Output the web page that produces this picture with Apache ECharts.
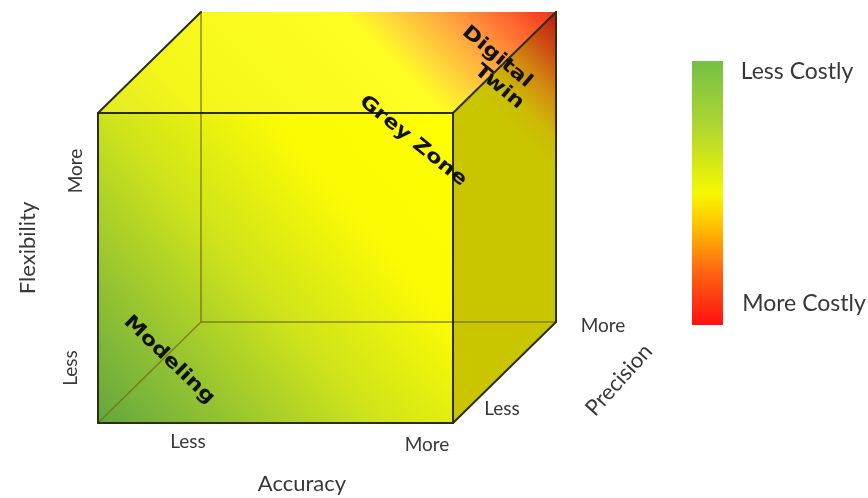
<!DOCTYPE html>
<html><head><meta charset="utf-8">
<script src="https://cdn.jsdelivr.net/npm/echarts@6/dist/echarts.min.js"></script>
<style>html,body{margin:0;padding:0;background:#fff}#c{width:868px;height:498px}</style>
</head><body><div id="c"></div>
<script>
// ---- content ----
const axisNames = ['Accuracy', 'Flexibility', 'Precision'];
const accuracyTicks = ['Less', 'More'];
const flexibilityTicks = ['Less', 'More'];
const precisionTicks = ['Less', 'More'];
const zoneLabels = ['Modeling', 'Grey Zone', 'Digital', 'Twin'];
const costLabels = ['Less Costly', 'More Costly'];
// cube corners as (accuracy, flexibility, precision), each 0..1
const cubeCorners = [[0,0,0],[1,0,0],[1,1,0],[0,1,0],[0,0,1],[1,0,1],[1,1,1],[0,1,1]];
const faceNames = ['front', 'top', 'right'];
const faceCorners = [[0,1,2,3], [3,2,6,7], [1,5,6,2]];
const visibleEdges = [[0,1],[1,2],[2,3],[3,0],[3,7],[2,6],[1,5],[5,6]];
const hiddenEdges = [[0,4],[4,5],[4,7]];

// ---- oblique projection (layout) ----
const DX = 103 / 355, DY = 101 / 310;
function proj(c) { return [c[0] + c[2] * DX, c[1] + c[2] * DY]; }

const LG = echarts.graphic.LinearGradient;
function faceFill(name, pts, corner) {
  if (name === 'front') {
    return new LG(pts[0][0], pts[0][1], pts[2][0], pts[2][1], [
      {offset: 0, color: '#62a640'}, {offset: 0.2, color: '#92c232'},
      {offset: 0.45, color: '#d0e41a'}, {offset: 0.7, color: '#fafa04'},
      {offset: 1, color: '#ffff00'}], true);
  }
  if (name === 'top') {
    const k = 283;
    return new LG(corner[0] - k, corner[1] + k, corner[0], corner[1], [
      {offset: 0, color: '#e0ea26'}, {offset: 0.2, color: '#f4f61a'},
      {offset: 0.62, color: '#fffe22'}, {offset: 0.7, color: '#ffd83a'},
      {offset: 0.8, color: '#ffa440'}, {offset: 0.9, color: '#ff6a30'},
      {offset: 1, color: '#f03018'}], true);
  }
  const k = 83;
  return new LG(corner[0] - k, corner[1] + k, corner[0], corner[1], [
    {offset: 0, color: '#c9c600'}, {offset: 0.22, color: '#ccbc04'},
    {offset: 0.48, color: '#d28a10'}, {offset: 0.75, color: '#cc4a12'},
    {offset: 1, color: '#c01810'}], true);
}

const chart = echarts.init(document.getElementById('c'), null, {renderer: 'canvas'});
const deg = Math.PI / 180;
const labelFont = 'Lato, "Open Sans", sans-serif';
const zoneFont = '"DejaVu Sans", sans-serif';
function txt(text, x, y, size, rot, opts) {
  opts = opts || {};
  return {
    type: 'text', x: x, y: y, rotation: (rot || 0) * deg, z: 100,
    scaleX: opts.sx || 1,
    style: {
      text: text, fill: opts.fill || '#383838', fontSize: size,
      fontFamily: opts.family || labelFont, fontWeight: opts.weight || 'normal',
      align: 'center', verticalAlign: 'middle',
      textAlign: 'center', textVerticalAlign: 'middle'
    }
  };
}
const zoneOpts = {fill: '#111', family: zoneFont, weight: 'bold', sx: 1.2};

chart.setOption({
  animation: false,
  backgroundColor: '#ffffff',
  grid: {left: 98, top: 113, width: 355, height: 310},
  xAxis: {type: 'value', min: 0, max: 1, show: false},
  yAxis: {type: 'value', min: 0, max: 1, show: false},
  series: [
    {
      type: 'custom', z: 1, clip: false,
      data: faceNames.map(n => ({name: n, value: [0, 0]})),
      renderItem: function (params, api) {
        const i = params.dataIndex;
        const pts = faceCorners[i].map(ci => api.coord(proj(cubeCorners[ci])));
        const corner = api.coord(proj(cubeCorners[6]));
        return {type: 'polygon', shape: {points: pts},
          style: {fill: faceFill(faceNames[i], pts, corner), stroke: 'none'}};
      }
    },
    {
      type: 'custom', z: 2, clip: false,
      data: hiddenEdges.map(e => ({value: [0, 0]})),
      renderItem: function (params, api) {
        const e = hiddenEdges[params.dataIndex];
        const a = api.coord(proj(cubeCorners[e[0]])), b = api.coord(proj(cubeCorners[e[1]]));
        return {type: 'line', shape: {x1: a[0], y1: a[1], x2: b[0], y2: b[1]},
          style: {stroke: 'rgba(115,110,20,0.8)', lineWidth: 1.5}};
      }
    },
    {
      type: 'custom', z: 3, clip: false,
      data: visibleEdges.map(e => ({value: [0, 0]})),
      renderItem: function (params, api) {
        const e = visibleEdges[params.dataIndex];
        const a = api.coord(proj(cubeCorners[e[0]])), b = api.coord(proj(cubeCorners[e[1]]));
        return {type: 'line', shape: {x1: a[0], y1: a[1], x2: b[0], y2: b[1]},
          style: {stroke: '#2e2c12', lineWidth: 2, lineCap: 'round'}};
      }
    }
  ],
  graphic: [
    // colour bar
    {type: 'rect', shape: {x: 692, y: 61, width: 31, height: 264}, z: 50,
      style: {fill: new LG(0, 0, 0, 1, [
        {offset: 0, color: '#74c046'}, {offset: 0.25, color: '#b0d630'},
        {offset: 0.5, color: '#f6f800'}, {offset: 0.62, color: '#ffc400'},
        {offset: 0.8, color: '#ff6412'}, {offset: 1, color: '#ff1010'}])}},
    txt(costLabels[0], 797, 72, 23, 0),
    txt(costLabels[1], 804, 304, 23, 0),
    // axis titles
    txt(axisNames[0], 302, 484, 22, 0),
    txt(axisNames[1], 28, 248, 22, 90),
    txt(axisNames[2], 619, 380, 22, 48),
    // ticks
    txt(accuracyTicks[0], 188, 442, 19, 0),
    txt(accuracyTicks[1], 427, 445, 19, 0),
    txt(flexibilityTicks[0], 71, 368, 19, 90),
    txt(flexibilityTicks[1], 76, 171, 19, 90),
    txt(precisionTicks[0], 502, 409, 19, 0),
    txt(precisionTicks[1], 603, 326, 19, 0),
    // zones
    txt(zoneLabels[0], 169, 360, 19, -44, zoneOpts),
    txt(zoneLabels[1], 413, 141, 19, -39, zoneOpts),
    txt(zoneLabels[2], 497, 57, 19, -40, zoneOpts),
    txt(zoneLabels[3], 499, 87, 19, -40, zoneOpts)
  ]
});
</script></body></html>
